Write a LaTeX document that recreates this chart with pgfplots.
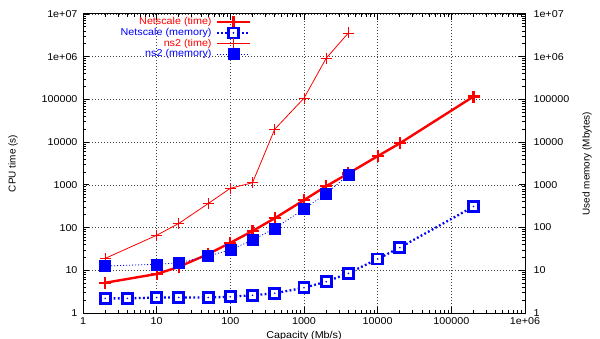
\documentclass[border=0pt]{standalone}
\usepackage{pgfplots}
\pgfplotsset{compat=1.18}
\usepackage{fontspec}
\setmainfont{Liberation Sans}
\newfontfamily\hfont[FakeStretch=1.08]{Liberation Sans}
\newfontfamily\vfont{Liberation Sans}

\pgfdeclareplotmark{sqdot}{%
  \pgfpathrectangle{\pgfqpoint{-\pgfplotmarksize}{-\pgfplotmarksize}}{\pgfqpoint{2\pgfplotmarksize}{2\pgfplotmarksize}}%
  \pgfusepathqfillstroke
  \begin{pgfscope}%
  \pgfsetfillcolor{blue}%
  \pgfpathcircle{\pgfpointorigin}{0.9bp}%
  \pgfusepathqfill
  \end{pgfscope}%
}

\pgfplotstableread{
x y
2 5.1
10 8.2
20 12
50 24
100 44
200 83
400 165
1000 440
2000 930
4000 1850
10000 4700
20000 9400
200000 117000
}\netscaletime

\pgfplotstableread{
x y
2 2.2
4 2.2
10 2.3
20 2.3
50 2.3
100 2.4
200 2.6
400 2.9
1000 3.9
2000 5.4
4000 8.5
10000 18.4
20000 34
200000 310
}\netscalemem

\pgfplotstableread{
x y
2 19
10 66
20 125
50 365
100 830
200 1120
400 20000
1000 107000
2000 920000
4000 3600000
}\nstime

\pgfplotstableread{
x y
2 12.6
10 13.8
20 15
50 21.5
100 30
200 51
400 96
1000 270
2000 630
4000 1700
}\nsmem

\begin{document}
\begin{tikzpicture}
\useasboundingbox (0,0) rectangle (600bp,339bp);
\begin{axis}[
  at={(83bp,26bp)}, anchor=south west,
  scale only axis, width=442bp, height=299bp,
  xmode=log, ymode=log,
  xmin=1, xmax=1000000, ymin=1, ymax=10000000,
  xtick={1,10,100,1000,10000,100000,1000000},
  xticklabels={1,10,100,1000,10000,100000,1e+06},
  ytick={1,10,100,1000,10000,100000,1000000,10000000},
  yticklabels={1,10,100,1000,10000,100000,1e+06,1e+07},
  minor xtick={2,3,4,5,6,7,8,9,20,30,40,50,60,70,80,90,200,300,400,500,600,700,800,900,2000,3000,4000,5000,6000,7000,8000,9000,20000,30000,40000,50000,60000,70000,80000,90000,200000,300000,400000,500000,600000,700000,800000,900000},
  minor ytick={2,3,4,5,6,7,8,9,20,30,40,50,60,70,80,90,200,300,400,500,600,700,800,900,2000,3000,4000,5000,6000,7000,8000,9000,20000,30000,40000,50000,60000,70000,80000,90000,200000,300000,400000,500000,600000,700000,800000,900000,2000000,3000000,4000000,5000000,6000000,7000000,8000000,9000000},
  tick align=inside,
  major tick length=6bp, minor tick length=3bp,
  every tick/.style={black, line width=0.8bp},
  axis line style={black, line width=1bp},
  xmajorgrids, ymajorgrids,
  major grid style={black!75, line width=0.6bp, dash pattern=on 1bp off 2bp},
  xticklabel style={font=\hfont\fontsize{10}{12}\selectfont, yshift=-1.5bp},
  yticklabel style={font=\hfont\fontsize{10}{12}\selectfont, xshift=-2bp},
  xlabel={Capacity (Mb/s)},
  xlabel style={font=\hfont\fontsize{10}{12}\selectfont, at={(axis description cs:0.5,0)}, anchor=base, yshift=-25bp},
  ylabel={CPU time (s)},
  ylabel style={font=\vfont\fontsize{10}{12}\selectfont, at={(axis description cs:0,0.5)}, anchor=center, yshift=70bp},
  legend plot pos=right,
  legend cell align=right,
  legend style={draw=none, fill=none, inner sep=0pt, outer sep=0pt,
    at={(axis description cs:0.3778,0.99)}, anchor=north east,
    font=\hfont\fontsize{10}{10}\selectfont, row sep=0pt,
    nodes={inner sep=0.4bp, text height=7.6bp, text depth=2.2bp},
    /tikz/every odd column/.style={column sep=5bp}},
  legend image code/.code={%
    \draw[mark repeat=2, mark phase=2] plot coordinates {(0bp,0bp) (16.5bp,0bp) (33bp,0bp)};
    \pgfresetboundingbox
    \path[draw=none, fill=none, use as bounding box] (0bp,-2bp) rectangle (33bp,2bp);},
  clip=false,
]
\addplot[red, line width=2.4bp, mark=+, mark size=6bp, mark options={solid, line width=2.2bp}] table {\netscaletime};
\addlegendentry{\textcolor{red}{Netscale (time)}}
\addplot[blue, line width=2.3bp, dash pattern=on 1.8bp off 2.4bp, mark=sqdot, mark size=5bp, mark options={solid, fill=white, line width=2.7bp}] table {\netscalemem};
\addlegendentry{\textcolor{blue}{Netscale (memory)}}
\addplot[red, line width=0.8bp, mark=+, mark size=5.5bp, mark options={solid, line width=0.8bp}] table {\nstime};
\addlegendentry{\textcolor{red}{ns2 (time)}}
\addplot[blue, line width=0.8bp, dash pattern=on 1bp off 2bp, mark=square*, mark size=5.5bp, mark options={solid, fill=blue, line width=0.5bp}] table {\nsmem};
\addlegendentry{\textcolor{blue}{ns2 (memory)}}
\end{axis}
\begin{axis}[
  at={(83bp,26bp)}, anchor=south west,
  scale only axis, width=442bp, height=299bp,
  xmode=log, ymode=log,
  xmin=1, xmax=1000000, ymin=1, ymax=10000000,
  axis x line=none, axis y line*=right,
  axis line style={draw=none},
  ytick={1,10,100,1000,10000,100000,1000000,10000000},
  yticklabels={1,10,100,1000,10000,100000,1e+06,1e+07},
  minor ytick={},
  ytick style={draw=none},
  yticklabel style={font=\hfont\fontsize{10}{12}\selectfont, xshift=5bp},
  ylabel={Used memory (Mbytes)},
  ylabel style={font=\vfont\fontsize{10}{12}\selectfont, at={(axis description cs:1,0.5)}, anchor=center, yshift=-62bp},
]
\addplot[draw=none, forget plot] coordinates {(1,1)};
\end{axis}
\end{tikzpicture}
\end{document}
